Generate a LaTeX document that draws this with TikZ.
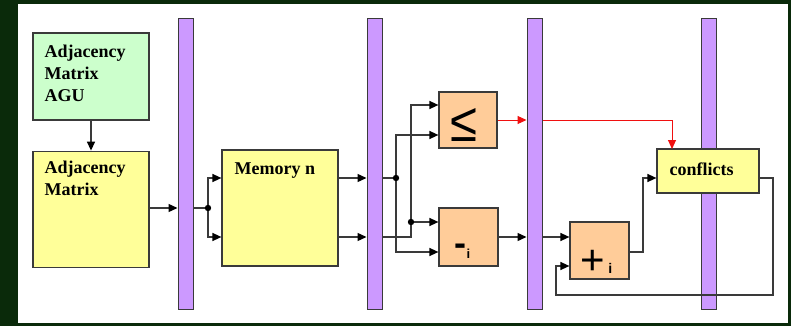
\documentclass[tikz,border=0pt]{standalone}
\usepackage{fontspec}
\setmainfont{Liberation Serif}
\setsansfont{Liberation Sans}
\usepackage{tikz}
\usetikzlibrary{arrows.meta, positioning, calc}
\definecolor{framebg}{HTML}{0A2A0A}
\definecolor{linegray}{HTML}{3A3A3A}
\definecolor{aguface}{HTML}{CCFFCC}
\definecolor{memface}{HTML}{FFFF99}
\definecolor{opface}{HTML}{FFCC99}
\definecolor{regface}{HTML}{CC99FF}
\definecolor{alarm}{HTML}{F01010}

\begin{document}
\begin{tikzpicture}[x=1pt, y=-1pt, >={Triangle[length=9pt, width=8pt]}]
    \tikzstyle{unit} = [rectangle, draw=linegray, line width=1.2pt, inner sep=0pt]
    \tikzstyle{reg} = [rectangle, draw=linegray, fill=regface, line width=1pt, minimum width=15pt, minimum height=290pt]
    \tikzstyle{caption} = [anchor=north west, align=left, inner sep=0pt, font=\bfseries\fontsize{18}{22}\selectfont]
    \tikzstyle{sign} = [inner sep=0pt, text=black]
    \tikzstyle{wire} = [draw=linegray, line width=1.4pt, >={Triangle[length=9pt, width=8pt, color=black]}]
    \tikzstyle{flag} = [draw=alarm, line width=1pt]

    % frame
    \fill [framebg] (0,0) rectangle (791,326);
    \fill [white] (18,4) rectangle (788,323);
    \useasboundingbox (0,0) rectangle (791,326);

    % pipeline registers
    \node [reg] (bar1) at (185.5,164) {};
    \node [reg] (bar2) at (374.5,164) {};
    \node [reg] (bar3) at (534.5,164) {};
    \node [reg] (bar4) at (708.5,164) {};

    % blocks
    \node [unit, fill=aguface, minimum width=116pt, minimum height=87pt,
        label={[caption, xshift=12pt, yshift=-12pt]north west:Adjacency\\Matrix\\AGU}] (agu) at (91,76.5) {};
    \node [unit, fill=memface, minimum width=116pt, minimum height=116pt, below=30pt of agu,
        label={[caption, xshift=12pt, yshift=-10pt]north west:Adjacency\\Matrix}] (am) {};
    \node [unit, fill=memface, minimum width=116pt, minimum height=116pt,
        label={[caption, xshift=13pt, yshift=-13pt]north west:Memory n}] (mem) at (280,208) {};
    \node [unit, fill=opface, minimum width=58pt, minimum height=56pt,
        label={[sign, font=\sffamily, xshift=-4pt, yshift=-4.5pt]center:\resizebox*{27pt}{33pt}{≤}}] (le) at (468,120) {};
    \node [unit, fill=opface, minimum width=59pt, minimum height=58pt,
        label={[sign, font=\sffamily\bfseries\fontsize{36}{36}\selectfont, xshift=-6pt, yshift=-14pt]center:-\raisebox{-3pt}{\fontsize{13}{13}\selectfont i}}] (sub) at (468.5,237) {};
    \node [unit, fill=opface, minimum width=59pt, minimum height=57pt,
        label={[sign, font=\sffamily\fontsize{42}{42}\selectfont, xshift=-3pt, yshift=-12pt]center:+\kern3pt\raisebox{1pt}{\bfseries\fontsize{14}{14}\selectfont i}}] (add) at (599.5,250.5) {};
    \node [unit, fill=memface, minimum width=102pt, minimum height=44pt,
        label={[caption, anchor=west, xshift=13pt, yshift=2pt]west:conflicts}] (cnf) at (708,171) {};

    % rows and turning points
    \coordinate (rA) at (0,105);
    \coordinate (rB) at (0,120);
    \coordinate (rC) at (0,135);
    \coordinate (rM1) at (0,178);
    \coordinate (rD) at (0,208);
    \coordinate (rE) at (0,222);
    \coordinate (rM2) at (0,237);
    \coordinate (rF) at (0,252);
    \coordinate (rG) at (0,266);
    \coordinate (j1) at (208,208);
    \coordinate (j2) at (396,178);
    \coordinate (j3) at (411,222);
    \coordinate (t1) at (643,178);
    \coordinate (t2) at (672,149);
    \coordinate (fb1) at (773,295);
    \coordinate (fb2) at (556,295);

    % first stage
    \path [wire, ->] (agu) -- (am);
    \path [wire, ->] (am.east |- rD) -- (bar1.west |- rD);
    \path [wire] (bar1.east |- rD) -- (j1);
    \path [wire, ->] (j1) |- (mem.west |- rM1);
    \path [wire, ->] (j1) |- (mem.west |- rM2);
    \path [wire, ->] (mem.east |- rM1) -- (bar2.west |- rM1);
    \path [wire, ->] (mem.east |- rM2) -- (bar2.west |- rM2);

    % compare and subtract
    \path [wire] (bar2.east |- rM1) -- (j2);
    \path [wire, ->] (j2) |- (le.west |- rC);
    \path [wire, ->] (j2) |- (sub.west |- rF);
    \path [wire] (bar2.east |- rM2) -| (j3);
    \path [wire, ->] (j3) |- (le.west |- rA);
    \path [wire, ->] (j3) -- (sub.west |- rE);
    \path [wire, ->] (sub.east |- rM2) -- (bar3.west |- rM2);
    \path [flag, ->] (le.east |- rB) -- (bar3.west |- rB);

    % add and conflicts
    \path [wire, ->] (bar3.east |- rM2) -- (add.west |- rM2);
    \path [flag, ->] (bar3.east |- rB) -| (t2);
    \path [wire, ->] (add.east |- rF) -| (t1) -- (cnf.west |- rM1);
    \path [wire, ->] (cnf.east |- rM1) -| (fb1) -- (fb2) |- (add.west |- rG);

    \fill [black] (j1) circle [radius=3.2pt];
    \fill [black] (j2) circle [radius=3.2pt];
    \fill [black] (j3) circle [radius=3.2pt];
\end{tikzpicture}
\end{document}
